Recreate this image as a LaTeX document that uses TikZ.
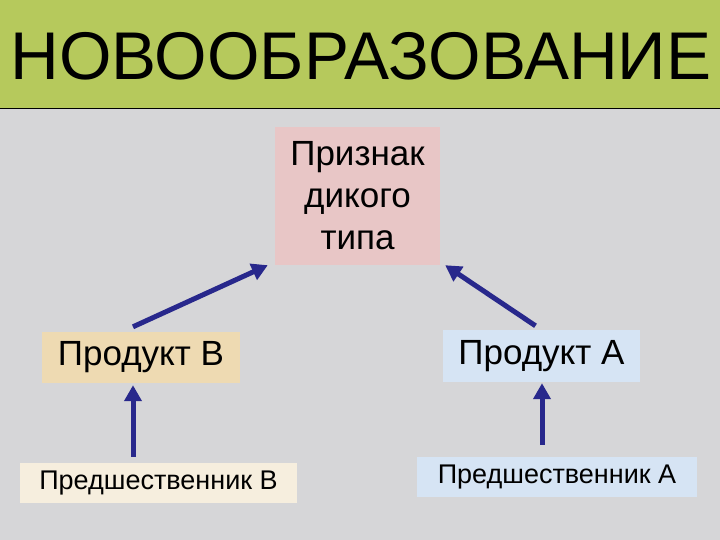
\documentclass[tikz,border=0pt]{standalone}
\usepackage{fontspec}
\setmainfont{Liberation Sans}
\usetikzlibrary{arrows.meta}
\definecolor{banner}{RGB}{182,201,92}
\definecolor{marble}{RGB}{214,214,216}
\definecolor{pinkbox}{RGB}{232,198,198}
\definecolor{beigebox}{RGB}{238,218,178}
\definecolor{bluebox}{RGB}{214,228,244}
\definecolor{creambox}{RGB}{246,238,222}
\definecolor{arrowblue}{RGB}{40,40,140}

\begin{document}
\begin{tikzpicture}[x=1pt,y=-1pt]
\tikzstyle{every node}+=[inner sep=0pt]
\tikzstyle{box}=[minimum width=#1, align=center]
\tikzstyle{arr}=[arrowblue, line width=5pt, -{Triangle[length=16pt,width=17pt]}]
\useasboundingbox (0,0) rectangle (720,540);
% background
\fill [marble] (0,0) rectangle (720,540);
\fill [banner] (0,0) rectangle (720,108);
\draw [black, line width=1.5pt] (0,108.5) -- (720,108.5);
\draw (361,80) node [anchor=base, font=\fontsize{67.5}{70}\selectfont] (title) {НОВООБРАЗОВАНИЕ};
% boxes
\node [box=165pt, minimum height=138pt, fill=pinkbox, font=\fontsize{35}{42}\selectfont] (sign) at (357.5,196) {Признак\\дикого\\типа};
\node [box=198pt, minimum height=51pt, fill=beigebox, font=\fontsize{35}{42}\selectfont] (prodB) at (141,357.5) {Продукт В};
\node [box=197pt, minimum height=52pt, fill=bluebox, font=\fontsize{35}{42}\selectfont] (prodA) at (541.5,356) {Продукт А};
\node [box=277pt, minimum height=40pt, fill=creambox, font=\fontsize{27}{32}\selectfont] (preB) at (158.5,483) {Предшественник В};
\node [box=280pt, minimum height=40pt, fill=bluebox, font=\fontsize{27}{32}\selectfont] (preA) at (557,477) {Предшественник А};
% arrows
\draw [arr] ([xshift=-8pt,yshift=5pt]prodB.north) -- ([xshift=-7pt]sign.south west);
\draw [arr] ([xshift=-6pt,yshift=4pt]prodA.north) -- ([xshift=5pt]sign.south east);
\draw [arr] ([xshift=-8pt,yshift=6pt]prodB.south |- preB.north) -- ([xshift=-8pt,yshift=-2pt]prodB.south);
\draw [arr] ([xshift=0.5pt,yshift=12pt]prodA.south |- preA.north) -- ([xshift=0.5pt,yshift=-1pt]prodA.south);
\end{tikzpicture}
\end{document}
